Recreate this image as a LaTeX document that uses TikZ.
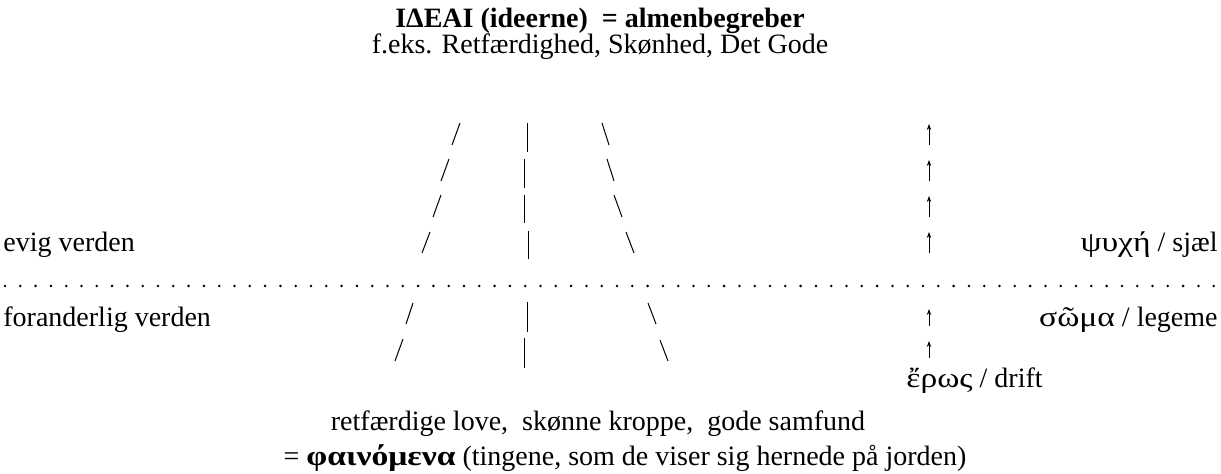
\documentclass[tikz,border=0pt]{standalone}
\usepackage{fontspec}
\usepackage{graphicx}
\setmainfont{Liberation Serif}
\usetikzlibrary{arrows.meta}
\newcommand\gkw[1]{\scalebox{1.2}[1]{#1}}
\tikzset{
  txt/.style={inner sep=0pt, font=\fontsize{14}{16}\selectfont},
  stroke/.style={line width=0.5pt, line cap=butt},
  uparr/.style={line width=0.5pt, -{Stealth[length=3pt,width=2.2pt]}},
  dot/.style={fill=black, draw=none}
}
\begin{document}
\begin{tikzpicture}[x=0.5pt,y=-0.5pt]
\useasboundingbox (0,0) rectangle (1221,474);
% texts
\node[txt, anchor=base] (title) at (600,28) {\textbf{IΔEAI (ideerne) \ = almenbegreber}};
\node[txt, anchor=base] (sub) at (600,54) {f.eks. Retfærdighed, Skønhed, Det Gode};
\node[txt, anchor=base west] (evig) at (3,252) {evig verden};
\node[txt, anchor=base west] (forand) at (3,327) {foranderlig verden};
\node[txt, anchor=base east] (psyche) at (1218,252) {\gkw{ψυχή} / sjæl};
\node[txt, anchor=base east] (soma) at (1218,327) {\gkw{σῶμα} / legeme};
\node[txt, anchor=base west] (eros) at (906,388) {\gkw{ἔρως} / drift};
\node[txt, anchor=base] (retf) at (598,431) {retfærdige love, \ skønne kroppe, \ gode samfund};
\node[txt, anchor=base] (phain) at (625,466) {= \gkw{\textbf{φαινόμενα}} (tingene, som de viser sig hernede på jorden)};
% dotted divider
\foreach \i in {0,...,79} \fill[dot] (5+15.3*\i,286) circle (1.4);
% upper strokes
\draw[stroke] (460,123) -- (452,145);
\draw[stroke] (449,159) -- (441,181);
\draw[stroke] (441,195) -- (433,217);
\draw[stroke] (430,232) -- (422,253);
\draw[stroke] (527,123) -- (527,152);
\draw[stroke] (524,159) -- (524,188);
\draw[stroke] (524,195) -- (524,223);
\draw[stroke] (528,231) -- (528,259);
\draw[stroke] (602,123) -- (609,145);
\draw[stroke] (607,159) -- (614,181);
\draw[stroke] (614,195) -- (622,217);
\draw[stroke] (626,232) -- (634,253);
% lower strokes
\draw[stroke] (413,303) -- (406,324);
\draw[stroke] (403,339) -- (395,361);
\draw[stroke] (527,302) -- (527,332);
\draw[stroke] (524,338) -- (524,368);
\draw[stroke] (648,303) -- (656,324);
\draw[stroke] (660,340) -- (668,361);
% arrows
\foreach \y in {124,160,196,232} \draw[uparr] (929,\y+21) -- (929,\y);
\foreach \y in {309,341} \draw[uparr] (929,\y+17) -- (929,\y);
\end{tikzpicture}
\end{document}
